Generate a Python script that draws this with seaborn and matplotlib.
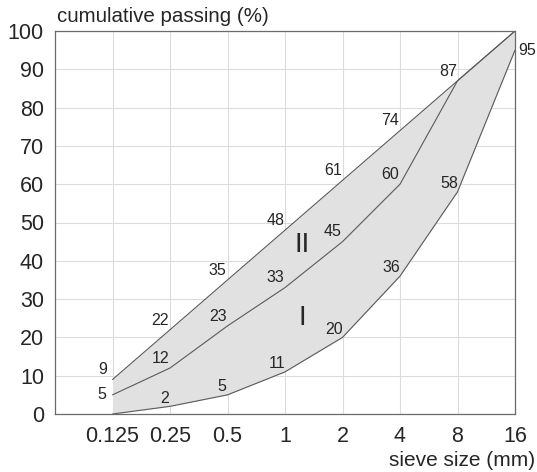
import numpy as np
import pandas as pd
import seaborn as sns
import matplotlib.pyplot as plt

# data
sieves = ['0.125', '0.25', '0.5', '1', '2', '4', '8', '16']
upper = [9, 22, 35, 48, 61, 74, 87, 100]
middle = [5, 12, 23, 33, 45, 60, 87, 100]
lower = [0, 2, 5, 11, 20, 36, 58, 95]

upper_labels = ['9', '22', '35', '48', '61', '74', '87', '']
middle_labels = ['5', '12', '23', '33', '45', '60', '', '']
lower_labels = ['', '2', '5', '11', '20', '36', '58', '95']

sns.set_style('whitegrid')
plt.rcParams['font.family'] = ['Liberation Sans', 'DejaVu Sans']

fig = plt.figure(figsize=(5.37, 4.72), dpi=100)
ax = fig.add_axes([55 / 537, 58 / 472, 460 / 537, 383 / 472])

idx = np.arange(len(sieves))
df = pd.DataFrame({'idx': np.tile(idx, 3),
                   'pct': upper + middle + lower,
                   'curve': ['upper'] * 8 + ['middle'] * 8 + ['lower'] * 8})

ax.fill_between(idx, lower, upper, color='#e1e1e1', zorder=1, lw=0)
sns.lineplot(data=df, x='idx', y='pct', units='curve', estimator=None,
             color='#5a5a5a', lw=0.8, ax=ax, zorder=2)

# value labels
fs = 11.5
for i in idx:
    if upper_labels[i]:
        ax.annotate(upper_labels[i], (i, upper[i]), xytext=(-7, 7),
                    textcoords='offset points', ha='center', va='center', fontsize=fs)
    if middle_labels[i]:
        off = (-8, 0) if i == 0 else (-7, 7)
        ax.annotate(middle_labels[i], (i, middle[i]), xytext=off,
                    textcoords='offset points', ha='center', va='center', fontsize=fs)
    if lower_labels[i]:
        off = (9, 0) if i == 7 else (-4, 6)
        if i in (3, 4, 5, 6):
            off = (-6, 6)
        ax.annotate(lower_labels[i], (i, lower[i]), xytext=off,
                    textcoords='offset points', ha='center', va='center', fontsize=fs)

ax.text(3.3, 44, 'II', fontsize=20, ha='center', va='center')
ax.text(3.3, 25, 'I', fontsize=20, ha='center', va='center')

ax.set_xlim(-1, 7)
ax.set_ylim(0, 100)
ax.set_xticks(idx)
ax.set_xticklabels(sieves)
ax.set_yticks(range(0, 101, 10))
ax.grid(True, color='#dcdcdc', lw=0.8)
ax.tick_params(labelsize=15.5, length=0)
ax.tick_params(axis='x', pad=9)
ax.tick_params(axis='y', pad=8)
for s in ax.spines.values():
    s.set_color('#6a6a6a')
    s.set_linewidth(0.9)
ax.set_xlabel('')
ax.set_ylabel('')

fig.text(57 / 537, 1 - 16 / 472, 'cumulative passing (%)', fontsize=14.8, ha='left', va='center')
fig.text(535 / 537, 1 - 461 / 472, 'sieve size (mm)', fontsize=15, ha='right', va='center')

fig.savefig('out.png', dpi=100)
